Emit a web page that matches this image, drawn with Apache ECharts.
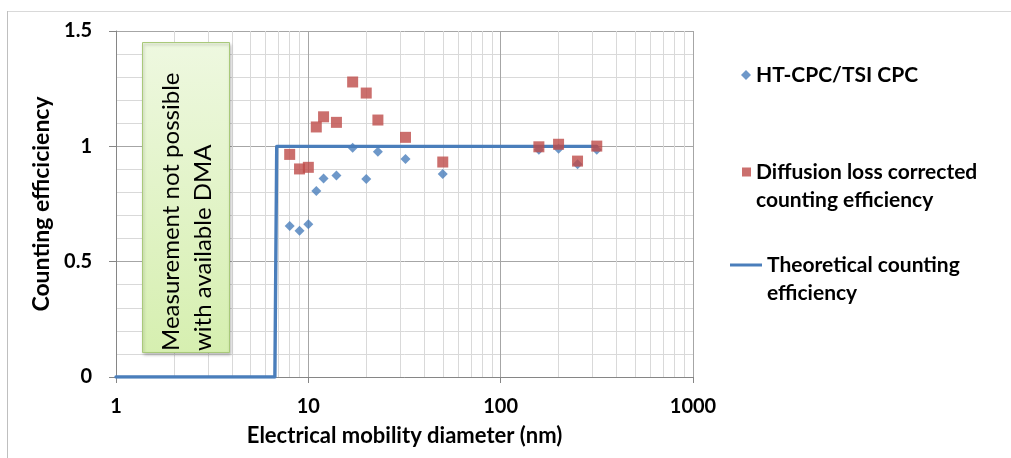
<!DOCTYPE html>
<html>
<head>
<meta charset="utf-8">
<script src="https://cdn.jsdelivr.net/npm/echarts@6/dist/echarts.min.js"></script>
<style>
  html, body { margin: 0; padding: 0; background: #fff; }
  #chart { width: 1011px; height: 458px; }
</style>
</head>
<body>
<div id="chart"></div>
<script>
// Particle diameters (nm) at which the CPC was measured
const diameters = [8, 9, 10, 11, 12, 14, 17, 20, 23, 32, 50, 158, 200, 251, 316];
// Raw efficiency ratio HT-CPC / TSI CPC
const htcpcRatio = [0.655, 0.634, 0.662, 0.806, 0.861, 0.874, 0.994, 0.858, 0.977, 0.945, 0.880, 0.985, 0.990, 0.922, 0.985];
// Efficiency after correcting for diffusion losses
const correctedEff = [0.965, 0.902, 0.909, 1.084, 1.128, 1.104, 1.279, 1.231, 1.114, 1.039, 0.932, 0.998, 1.009, 0.936, 1.001];
// Theoretical step curve: diameter and efficiency
const theoryDiam = [1, 6.7, 6.85, 316];
const theoryEff = [0, 0, 1, 1];
// Axis ticks
const xTicks = [1, 10, 100, 1000];
const yTicks = [0, 0.5, 1, 1.5];

const FONT = 'Lato, "Open Sans", sans-serif';
const BLUE = '#4a7ebb';
const RED = '#be4b48';

// Minor vertical gridlines at 2..9 within each decade
const minorX = [];
for (let i = 0; i < xTicks.length - 1; i++) {
  for (let k = 2; k <= 9; k++) minorX.push(xTicks[i] * k);
}

const chart = echarts.init(document.getElementById('chart'), null, { renderer: 'canvas' });

const legendText = { color: '#000', fontWeight: 'bold', fontSize: 21, fontFamily: FONT, lineHeight: 28 };

chart.setOption({
  animation: false,
  backgroundColor: '#ffffff',
  grid: { left: 116, right: 318, top: 31, bottom: 81, containLabel: false },
  xAxis: {
    type: 'log',
    logBase: 10,
    min: xTicks[0],
    max: xTicks[xTicks.length - 1],
    name: 'Electrical mobility diameter (nm)',
    nameLocation: 'middle',
    nameGap: 48,
    nameTextStyle: { color: '#000', fontWeight: 'bold', fontSize: 22, fontFamily: FONT },
    axisLine: { show: true, onZero: false, lineStyle: { color: '#868686', width: 1 } },
    axisTick: { show: true, inside: false, length: 6, lineStyle: { color: '#868686' } },
    axisLabel: {
      margin: 20, color: '#000', fontWeight: 'bold', fontSize: 20, fontFamily: FONT,
      formatter: v => String(Math.round(v))
    },
    splitLine: { show: true, lineStyle: { color: '#a6a6a6', width: 1 } }
  },
  yAxis: {
    type: 'value',
    min: yTicks[0],
    max: yTicks[yTicks.length - 1],
    interval: 0.5,
    name: 'Counting efficiciency',
    nameLocation: 'middle',
    nameGap: 60,
    nameRotate: 90,
    nameTextStyle: { color: '#000', fontWeight: 'bold', fontSize: 23, fontFamily: FONT },
    axisLine: { show: true, lineStyle: { color: '#868686', width: 1 } },
    axisTick: { show: true, inside: false, length: 7, lineStyle: { color: '#868686' } },
    axisLabel: { margin: 24, color: '#000', fontWeight: 'bold', fontSize: 20, fontFamily: FONT },
    splitLine: { show: true, lineStyle: { color: '#a6a6a6', width: 1 } },
    minorTick: { show: false, splitNumber: 5 },
    minorSplitLine: { show: true, lineStyle: { color: '#d9d9d9', width: 1 } }
  },
  legend: [
    {
      data: [{ name: 'HT-CPC/TSI CPC', icon: 'diamond' }],
      orient: 'vertical', left: 741, top: 61, padding: 0,
      itemWidth: 10, itemHeight: 10, itemGap: 0, itemTextGap: 13,
      textStyle: legendText, selectedMode: false
    },
    {
      // leading blank line keeps the icon level with the first text line
      data: [{ name: 'Diffusion loss corrected counting efficiency', icon: 'rect' }],
      orient: 'vertical', left: 742, top: 130, padding: 0,
      itemWidth: 9, itemHeight: 9, itemGap: 0, itemTextGap: 13,
      formatter: () => '\nDiffusion loss corrected\ncounting efficiency',
      textStyle: legendText, selectedMode: false
    },
    {
      data: [{ name: 'Theoretical counting efficiency', icon: 'rect' }],
      orient: 'vertical', left: 730, top: 223, padding: 0,
      itemWidth: 32, itemHeight: 3, itemGap: 0, itemTextGap: 2,
      formatter: () => '\nTheoretical counting\nefficiency',
      textStyle: legendText, selectedMode: false
    }
  ],
  graphic: [
    // outer chart frame edges
    { type: 'line', z: 0, silent: true, shape: { x1: 7, y1: 11.5, x2: 1011, y2: 11.5 }, style: { stroke: '#d9d9d9', lineWidth: 1 } },
    { type: 'line', z: 0, silent: true, shape: { x1: 7.5, y1: 11, x2: 7.5, y2: 458 }, style: { stroke: '#bfbfbf', lineWidth: 1 } },
    // annotation box for the range below the DMA limit
    {
      type: 'group', z: 100,
      children: [
        {
          type: 'rect', z: 100,
          shape: { x: 142.5, y: 42.5, width: 87, height: 310 },
          style: {
            fill: new echarts.graphic.LinearGradient(0, 0, 0, 1, [
              { offset: 0, color: '#eef8e0' },
              { offset: 1, color: '#d6efb0' }
            ]),
            stroke: '#a9c97a', lineWidth: 1,
            shadowBlur: 3, shadowOffsetX: 1, shadowOffsetY: 2, shadowColor: 'rgba(0,0,0,0.25)'
          }
        },
        {
          type: 'text', z: 101,
          x: 187, y: 351, rotation: Math.PI / 2,
          style: {
            text: 'Measurement not possible\nwith available DMA',
            fill: '#000', font: '24px ' + FONT,
            align: 'left', verticalAlign: 'middle', lineHeight: 32
          }
        }
      ]
    }
  ],
  series: [
    {
      name: 'Theoretical counting efficiency',
      type: 'line',
      data: theoryDiam.map((d, i) => [d, theoryEff[i]]),
      symbol: 'none',
      lineStyle: { color: BLUE, width: 3.4, join: 'round', cap: 'round' },
      itemStyle: { color: BLUE },
      z: 3,
      markLine: {
        silent: true, z: 1, symbol: ['none', 'none'],
        label: { show: false },
        lineStyle: { color: '#d9d9d9', type: 'solid', width: 1 },
        emphasis: { disabled: true },
        data: minorX.map(v => ({ xAxis: v }))
      }
    },
    {
      name: 'HT-CPC/TSI CPC',
      type: 'scatter',
      data: diameters.map((d, i) => [d, htcpcRatio[i]]),
      symbol: 'diamond',
      symbolSize: 10,
      itemStyle: { color: BLUE },
      z: 4
    },
    {
      name: 'Diffusion loss corrected counting efficiency',
      type: 'scatter',
      data: diameters.map((d, i) => [d, correctedEff[i]]),
      symbol: 'rect',
      symbolSize: 11,
      itemStyle: { color: RED },
      z: 5
    }
  ]
});
</script>
</body>
</html>
